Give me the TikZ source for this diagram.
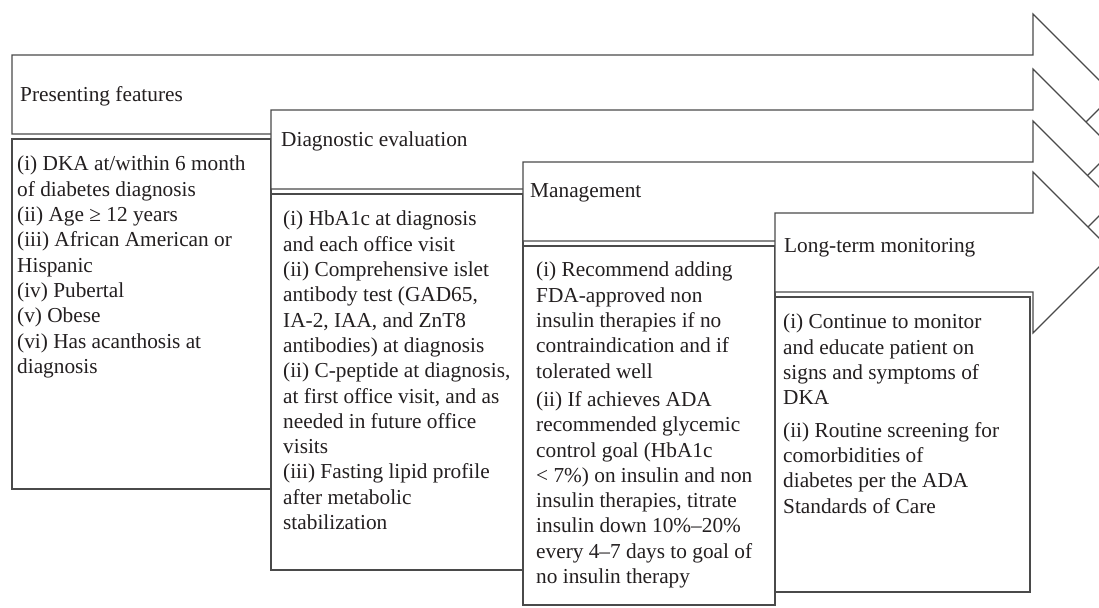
\documentclass[tikz,border=0pt]{standalone}
\usepackage{fontspec}
\setmainfont{Liberation Serif}
\usepackage{xcolor}
\usepackage{tikz}
\definecolor{edgegray}{HTML}{4A4A4A}
\definecolor{inkgray}{HTML}{231F20}

\begin{document}
\begin{tikzpicture}[x=1pt,y=-1pt]
	\tikzstyle{stage}=[draw=edgegray,fill=white,line width=1.1pt,line join=miter]
	\tikzstyle{panel}=[draw=edgegray,fill=white,line width=1.1pt]
	\tikzstyle{heading}=[anchor=west,inner sep=0pt,text=inkgray,font=\fontsize{21.3}{25}\selectfont]
	\tikzstyle{items}=[anchor=north west,inner sep=0pt,align=left,text=inkgray,font=\fontsize{21.3}{25.3}\selectfont]
	\useasboundingbox (0,0) rectangle (1099,607);
	\clip (0,0) rectangle (1099,607);
	% presenting features
	\draw[stage] (12,55) -- (1033,55) -- (1033,14) -- (1113.5,94.5) -- (1033,175) -- (1033,134) -- (12,134) -- cycle;
	\node[heading](s1) at (20,96) {Presenting features};
	\draw[panel] (12,139) rectangle (271,489);
	\node[items](l1) at (17,156) {(i) DKA at/within 6 month\\of diabetes diagnosis\\(ii) Age ≥ 12 years\\(iii) African American or\\Hispanic\\(iv) Pubertal\\(v) Obese\\(vi) Has acanthosis at\\diagnosis};
	% diagnostic evaluation
	\draw[stage] (271,110) -- (1033,110) -- (1033,69) -- (1113.5,149.5) -- (1033,230) -- (1033,189) -- (271,189) -- cycle;
	\node[heading](s2) at (281,141) {Diagnostic evaluation};
	\draw[panel] (271,194) rectangle (523,570);
	\node[items](l2) at (283,211) {(i) HbA1c at diagnosis\\and each office visit\\(ii) Comprehensive islet\\antibody test (GAD65,\\IA-2, IAA, and ZnT8\\antibodies) at diagnosis\\(ii) C-peptide at diagnosis,\\at first office visit, and as\\needed in future office\\visits\\(iii) Fasting lipid profile\\after metabolic\\stabilization};
	% management
	\draw[stage] (523,162) -- (1033,162) -- (1033,121) -- (1113.5,201.5) -- (1033,282) -- (1033,241) -- (523,241) -- cycle;
	\node[heading](s3) at (530,193) {Management};
	\draw[panel] (523,246) rectangle (775,605);
	\node[items](l3) at (536,262) {(i) Recommend adding\\FDA-approved non\\insulin therapies if no\\contraindication and if\\tolerated well\\[3pt](ii) If achieves ADA\\recommended glycemic\\control goal (HbA1c\\< 7\%) on insulin and non\\insulin therapies, titrate\\insulin down 10\%--20\%\\every 4--7 days to goal of\\no insulin therapy};
	% long-term monitoring
	\draw[stage] (775,213) -- (1033,213) -- (1033,172) -- (1113.5,252.5) -- (1033,333) -- (1033,292) -- (775,292) -- cycle;
	\node[heading](s4) at (784,248) {Long-term monitoring};
	\draw[panel] (775,297) rectangle (1030,592);
	\node[items](l4) at (783,314) {(i) Continue to monitor\\and educate patient on\\signs and symptoms of\\DKA\\[7pt](ii) Routine screening for\\comorbidities of\\diabetes per the ADA\\Standards of Care};
\end{tikzpicture}
\end{document}
